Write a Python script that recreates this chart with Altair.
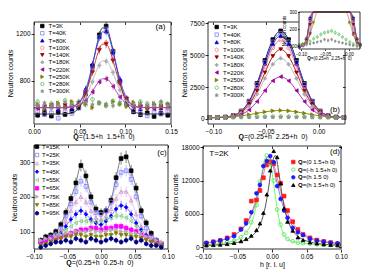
import altair as alt
import pandas as pd

FONT = "Liberation Sans"
W, H = 358, 263
STAR = "M0,-1L0.235,-0.324L0.951,-0.309L0.38,0.124L0.588,0.809L0,0.4L-0.588,0.809L-0.38,0.124L-0.951,-0.309L-0.235,-0.324Z"

# ---------------- panel (a) data ----------------
a_labels = ["T=3K", "T=40K", "T=80K", "T=100K", "T=140K", "T=180K", "T=220K", "T=250K", "T=280K", "T=300K"]
a_x = [0.004, 0.0115, 0.019, 0.0265, 0.034, 0.0415, 0.049, 0.0565, 0.064, 0.0715,
       0.079, 0.0865, 0.094, 0.1015, 0.109, 0.1165, 0.124, 0.1315, 0.139, 0.1465]
a_3K = [505, 520, 498, 530, 512, 540, 570, 690, 925, 1190, 1265, 1050, 790, 600, 535, 510, 525, 495, 520, 505]
a_40K = [540, 510, 525, 480, 535, 520, 565, 700, 910, 1170, 1240, 1045, 800, 610, 545, 520, 500, 530, 515, 540]
a_80K = [575, 560, 585, 555, 580, 565, 620, 730, 940, 1175, 1220, 1040, 815, 650, 590, 560, 575, 585, 565, 580]
a_100K = [560, 585, 570, 590, 565, 580, 600, 705, 885, 1070, 1125, 980, 770, 640, 585, 570, 590, 565, 575, 560]
a_140K = [575, 560, 580, 570, 590, 575, 610, 690, 870, 1060, 1110, 970, 780, 645, 580, 575, 560, 585, 570, 590]
a_180K = [590, 575, 560, 585, 570, 595, 600, 660, 790, 930, 965, 870, 720, 625, 585, 590, 570, 580, 600, 575]
a_220K = [565, 580, 590, 560, 575, 585, 590, 630, 705, 790, 815, 750, 660, 600, 575, 585, 570, 560, 580, 590]
a_250K = [600, 560, 590, 610, 575, 620, 585, 600, 570, 610, 590, 620, 600, 580, 615, 595, 570, 605, 585, 600]
a_280K = [620, 590, 605, 580, 630, 600, 615, 595, 640, 610, 585, 625, 600, 610, 590, 620, 605, 580, 615, 600]
a_300K = [590, 610, 580, 600, 615, 590, 605, 620, 595, 610, 600, 585, 615, 600, 595, 610, 590, 600, 620, 585]

a_fit_labels = ["T=3K", "T=80K", "T=140K", "T=180K", "T=220K"]
a_fit_x = [0, 0.03, 0.04, 0.05, 0.055, 0.06, 0.065, 0.07, 0.075, 0.08, 0.085, 0.09, 0.095, 0.10, 0.105, 0.11, 0.12, 0.15]
a_fit_3K = [515, 515, 521, 575, 654, 788, 967, 1144, 1250, 1237, 1111, 929, 757, 633, 564, 532, 516, 515]
a_fit_80K = [570, 570, 576, 622, 692, 810, 968, 1123, 1216, 1205, 1094, 934, 783, 674, 613, 585, 571, 570]
a_fit_140K = [570, 570, 575, 614, 672, 772, 904, 1034, 1112, 1103, 1010, 876, 749, 657, 606, 583, 571, 570]
a_fit_180K = [570, 570, 574, 602, 645, 719, 816, 912, 969, 962, 894, 795, 702, 634, 597, 579, 571, 570]
a_fit_220K = [570, 570, 572, 590, 617, 662, 722, 781, 816, 812, 770, 709, 651, 610, 587, 576, 570, 570]

# ---------------- panel (b) data ----------------
b_labels = a_labels
b_x = [-0.1035, -0.096, -0.0885, -0.081, -0.0735, -0.066, -0.0585, -0.051, -0.0435,
       -0.036, -0.0285, -0.021, -0.0135, -0.006, 0.0015, 0.009, 0.0165, 0.024]
b_3K = [100, 110, 143, 263, 617, 1392, 2779, 4588, 6220, 6900, 6220, 4588, 2779, 1392, 617, 263, 143, 110]
b_40K = [100, 109, 142, 258, 602, 1354, 2700, 4456, 6040, 6700, 6040, 4456, 2700, 1354, 602, 258, 142, 109]
b_80K = [100, 109, 140, 254, 588, 1320, 2630, 4337, 5878, 6520, 5878, 4337, 2630, 1320, 588, 254, 140, 109]
b_100K = [100, 108, 138, 246, 561, 1253, 2492, 4106, 5563, 6170, 5563, 4106, 2492, 1253, 561, 246, 138, 108]
b_140K = [100, 107, 134, 228, 507, 1117, 2208, 3631, 4915, 5450, 4915, 3631, 2208, 1117, 507, 228, 134, 107]
b_180K = [100, 107, 129, 212, 453, 984, 1932, 3169, 4285, 4750, 4285, 3169, 1932, 984, 453, 212, 129, 107]
b_220K = [100, 104, 120, 177, 344, 710, 1365, 2219, 2989, 3310, 2989, 2219, 1365, 710, 344, 177, 120, 104]
b_250K = [100, 110, 130, 170, 240, 330, 440, 550, 630, 660, 630, 550, 440, 330, 240, 170, 130, 110]
b_280K = [110, 115, 120, 130, 145, 155, 170, 180, 185, 190, 180, 170, 155, 140, 125, 115, 110, 105]
b_300K = [100, 105, 110, 115, 120, 125, 130, 140, 135, 140, 130, 125, 120, 115, 110, 105, 100, 100]
b_line_labels = a_labels[:8]

# ---------------- panel (c) data ----------------
c_labels = ["T=15K", "T=25K", "T=35K", "T=45K", "T=55K", "T=65K", "T=75K", "T=85K", "T=95K"]
c_x = [-0.09, -0.0825, -0.075, -0.0675, -0.06, -0.0525, -0.045, -0.0375, -0.03, -0.0225, -0.015, -0.0075, 0.0,
       0.0075, 0.015, 0.0225, 0.03, 0.0375, 0.045, 0.0525, 0.06, 0.0675, 0.075, 0.0825, 0.09]
c_15K = [75, 85, 90, 100, 120, 155, 195, 240, 290, 260, 200, 165, 155, 160, 190, 255, 310, 315, 275, 225, 160, 125, 95, 75, 65]
c_25K = [70, 75, 85, 90, 110, 145, 180, 215, 245, 230, 185, 155, 150, 160, 185, 235, 270, 275, 250, 200, 145, 110, 85, 75, 65]
c_35K = [70, 75, 85, 95, 105, 130, 160, 185, 200, 185, 160, 140, 135, 145, 165, 195, 215, 215, 190, 150, 115, 95, 80, 70, 60]
c_45K = [65, 70, 80, 85, 95, 115, 135, 150, 160, 150, 135, 125, 120, 130, 145, 165, 175, 170, 150, 125, 105, 90, 75, 70, 60]
c_55K = [60, 70, 75, 85, 95, 105, 115, 125, 130, 130, 130, 128, 130, 135, 140, 145, 145, 140, 130, 115, 100, 85, 75, 65, 60]
c_65K = [70, 75, 80, 80, 85, 90, 95, 100, 105, 105, 110, 110, 105, 110, 110, 115, 115, 110, 105, 100, 90, 85, 75, 70, 65]
c_75K = [75, 80, 80, 85, 90, 95, 95, 100, 100, 100, 105, 100, 100, 100, 105, 105, 100, 100, 95, 95, 90, 85, 80, 75, 70]
c_85K = [60, 65, 70, 75, 80, 85, 85, 90, 90, 85, 90, 85, 85, 90, 90, 95, 90, 90, 85, 85, 80, 75, 70, 65, 60]
c_95K = [55, 60, 65, 70, 70, 75, 70, 80, 75, 70, 80, 75, 70, 75, 80, 75, 70, 75, 80, 70, 75, 65, 60, 60, 55]

# ---------------- panel (d) data ----------------
d_labels = ["Q=(0 1.5+h 0)", "Q=(-h 1.5+h 0)", "Q=(h 1.5 0)", "Q=(h 1.5+h 0)"]
d_x = [-0.095, -0.085, -0.075, -0.065, -0.055, -0.045, -0.0375, -0.03, -0.0225, -0.0175, -0.0125, -0.0075, -0.0025,
       0.0025, 0.0075, 0.0125, 0.0175, 0.0225, 0.03, 0.0375, 0.045, 0.055, 0.065, 0.075, 0.085, 0.095]
d_red = [750, 1000, 1200, 1700, 2300, 3300, 4800, 8300, 8500, 10200, 12500, 14800, 15300, 15000, 13000, 11500, 9200, 6600, 4600, 3200, 2300, 1700, 1300, 1050, 850, 650]
d_green = [480, 560, 700, 900, 1150, 1800, 2600, 4500, 7600, 11800, 14600, 16500, 15000, 12000, 6800, 4100, 2300, 1500, 1100, 850, 750, 650, 560, 480, 430, 400]
d_blue = [800, 950, 1250, 1550, 2000, 3200, 4300, 6300, 9700, 11200, 14600, 15500, 16400, 15300, 11000, 8700, 6600, 5300, 3500, 2700, 2200, 1500, 1200, 1000, 800, 700]
d_black = [350, 420, 500, 600, 800, 1100, 1500, 2100, 3100, 4300, 6200, 9500, 13800, 17300, 16200, 11500, 7000, 4600, 3000, 1800, 1300, 900, 700, 550, 450, 380]
d_fit_x = [-0.10, -0.08, -0.06, -0.05, -0.04, -0.03, -0.025, -0.02, -0.015, -0.01, -0.005, 0, 0.005, 0.01, 0.015,
           0.02, 0.025, 0.03, 0.04, 0.05, 0.06, 0.08, 0.10]
d_fit_red = [749, 1106, 1843, 2539, 3697, 5738, 7295, 9331, 11791, 14265, 15843, 15650, 13807, 11278, 8885, 6946, 5472, 4374, 2929, 2082, 1556, 974, 678]
d_fit_green = [450, 600, 1000, 1400, 2300, 4300, 6300, 9300, 13000, 16000, 16300, 13500, 9000, 5200, 2900, 1800, 1300, 1050, 800, 650, 550, 450, 380]
d_fit_blue = [727, 1083, 1838, 2566, 3812, 6071, 7832, 10143, 12865, 15344, 16400, 15344, 12865, 10143, 7832, 6071, 4766, 3812, 2566, 1838, 1383, 876, 617]
d_fit_black = [317, 430, 661, 876, 1244, 1927, 2512, 3400, 4814, 7089, 10660, 14950, 16485, 13300, 9067, 6035, 4164, 2999, 1750, 1151, 824, 501, 354]

# axis titles (bold "Q" + rest)
a_title_rest = "=(1.5+h\u00a0 1.5+h\u00a0 0)"
b_title_rest = "=(0.25+h\u00a0 2.25+h\u00a0 0)"
c_title_rest = "=(0.25+h\u00a0 0.25-h\u00a0 0)"

# ---------------- styles ----------------
ab_stroke = ["#000000", "#8080ff", "#0000d0", "#ff8080", "#9a0000", "#a8a8a8", "#a000a0", "#808000", "#60c060", "#8c8c8c"]
ab_fill = ["#000000", "transparent", "#0000d0", "transparent", "#9a0000", "#a8a8a8", "#a000a0", "#808000", "transparent", "#8c8c8c"]
ab_shape = ["square", "square", "triangle-up", "circle", "triangle-down", "diamond", "triangle-left", "triangle-right", "circle", STAR]
a_fit_stroke = ["#303030", "#3c3cff", "#c03030", "#b8b8b8", "#a040a0"]
b_line_stroke = ["#000000", "#6a6aff", "#2020e0", "#ff7070", "#b00000", "#b0b0b0", "#a020a0", "#808000"]
c_stroke = ["#000000", "#8080ff", "#d090d0", "#0000ff", "#80c880", "#ff00ff", "#b0b0b0", "#808000", "#000080"]
c_fill = ["#000000", "transparent", "transparent", "#0000ff", "transparent", "#ff00ff", "#b0b0b0", "#808000", "#000080"]
c_shape = ["square", "square", "triangle-up", "diamond", "triangle-left", "square", "triangle-right", "triangle-down", "circle"]
d_stroke = ["#ff1a1a", "#55dd55", "#1a1aff", "#000000"]
d_fill = ["#ff1a1a", "transparent", "#1a1aff", "#000000"]
d_shape = ["square", "circle", "circle", "triangle-up"]
d_line = ["#ff6a6a", "#55ff55", "#7070ff", "#404040"]

# panel geometry (pixel ranges inside the single view)
PA = dict(xdom=[0.0, 0.15], ydom=[430, 1300], xr=[26, 163], yr=[116, 14])
PB = dict(xdom=[-0.105, 0.025], ydom=[-400, 7600], xr=[200, 337], yr=[116, 14])
PI = dict(xdom=[-0.104, 0.023], ydom=[85, 300], xr=[291, 352], yr=[41, 4])
PC = dict(xdom=[-0.10, 0.10], ydom=[50, 349], xr=[26, 160], yr=[241, 137])
PD = dict(xdom=[-0.10, 0.10], ydom=[-300, 18200], xr=[195, 333], yr=[241, 138])


def long(xs, labels, series):
    rows = []
    for lab, ys in zip(labels, series):
        for x, y in zip(xs, ys):
            rows.append({"x": x, "y": y, "T": lab})
    return pd.DataFrame(rows)


def sx(P, clamp=False):
    return alt.Scale(domain=P["xdom"], range=P["xr"], nice=False, zero=False, clamp=clamp)


def sy(P, clamp=False):
    return alt.Scale(domain=P["ydom"], range=P["yr"], nice=False, zero=False, clamp=clamp)


AX = dict(domain=False, grid=False, labelFont=FONT, titleFont=FONT, labelColor="black", titleColor="black",
          tickColor="black", tickWidth=0.8, titleFontWeight="normal", labelFlush=False, labelOverlap=False)


def xaxis(P, values, title, fmt=".2f", fs=6.5, ts=7, tick=3, z=0):
    return alt.Axis(orient="bottom", offset=P["yr"][0] - H, values=values, format=fmt, title=title,
                    labelFontSize=fs, titleFontSize=ts, tickSize=tick, labelPadding=1, titlePadding=1,
                    zindex=z, **AX)


def yaxis(P, values, title, fmt="d", fs=6.5, ts=7, tick=3, z=0):
    return alt.Axis(orient="left", offset=-P["xr"][0], values=values, format=fmt, title=title,
                    labelFontSize=fs, titleFontSize=ts, tickSize=tick, labelPadding=1, titlePadding=2,
                    zindex=z, **AX)


def frame(P, xvals, yvals, fill="transparent", mirror=True):
    if mirror:
        ta = alt.Axis(orient="bottom", offset=P["yr"][1] - H, values=xvals, labels=False, title="",
                      tickSize=2.5, **AX)
        ra = alt.Axis(orient="left", offset=-P["xr"][1], values=yvals, labels=False, title="",
                      tickSize=2.5, **AX)
    else:
        ta = None
        ra = None
    enc = dict(
        x=alt.XDatum(P["xdom"][0], type="quantitative", scale=sx(P), axis=ta),
        x2=alt.X2Datum(P["xdom"][1]),
        y=alt.YDatum(P["ydom"][0], type="quantitative", scale=sy(P), axis=ra),
        y2=alt.Y2Datum(P["ydom"][1]),
    )
    stroke = "black" if fill == "transparent" else "white"
    return alt.Chart(pd.DataFrame({"k": [0]})).mark_rect(fill=fill, stroke=stroke, strokeWidth=0.8).encode(**enc)


def cscales(labels, stroke, fill, shape):
    return (alt.Scale(domain=labels, range=stroke), alt.Scale(domain=labels, range=fill),
            alt.Scale(domain=labels, range=shape))


def points(df, P, labels, stroke, fill, shape, xax=None, yax=None, size=14, filt=None):
    s1, s2, s3 = cscales(labels, stroke, fill, shape)
    ch = alt.Chart(df)
    if filt:
        ch = ch.transform_filter(filt)
    return ch.mark_point(size=size, strokeWidth=0.8, opacity=1).encode(
        x=alt.X("x:Q", scale=sx(P, filt is not None), axis=xax),
        y=alt.Y("y:Q", scale=sy(P), axis=yax),
        stroke=alt.Stroke("T:N", scale=s1, legend=None),
        fill=alt.Fill("T:N", scale=s2, legend=None),
        shape=alt.Shape("T:N", scale=s3, legend=None),
    )


def errbars(df, P, labels, stroke, filt=None, width=0.5):
    ch = alt.Chart(df)
    if filt:
        ch = ch.transform_filter(filt)
    return ch.transform_calculate(lo="datum.y - sqrt(datum.y)", hi="datum.y + sqrt(datum.y)").mark_rule(
        strokeWidth=width).encode(
        x=alt.X("x:Q", scale=sx(P, True), axis=None),
        y=alt.Y("lo:Q", scale=sy(P, True), axis=None),
        y2="hi:Q",
        stroke=alt.Stroke("T:N", scale=alt.Scale(domain=labels, range=stroke), legend=None),
    )


def lines(df, P, labels, stroke, width=0.9, clamp=False):
    return alt.Chart(df).mark_line(strokeWidth=width, interpolate="monotone").encode(
        x=alt.X("x:Q", scale=sx(P, clamp), axis=None),
        y=alt.Y("y:Q", scale=sy(P, clamp), axis=None),
        stroke=alt.Stroke("T:N", scale=alt.Scale(domain=labels, range=stroke), legend=None),
    )


def legend(labels, stroke, fill, shape, symx, textx, y0, y1, fs=6, size=12, boldq=False):
    df = pd.DataFrame({"T": labels})
    ysc = alt.Scale(type="point", domain=labels, range=[y0, y1], padding=0)
    s1, s2, s3 = cscales(labels, stroke, fill, shape)
    sym = alt.Chart(df).mark_point(size=size, strokeWidth=0.8, opacity=1).encode(
        x=alt.value(symx), y=alt.Y("T:N", scale=ysc, axis=None),
        stroke=alt.Stroke("T:N", scale=s1, legend=None),
        fill=alt.Fill("T:N", scale=s2, legend=None),
        shape=alt.Shape("T:N", scale=s3, legend=None),
    )
    out = [sym]
    if boldq:
        qw = 0.778 * fs
        out.append(alt.Chart(df).transform_calculate(q="substring(datum.T, 0, 1)").mark_text(
            align="left", baseline="middle", font=FONT, fontSize=fs, fontWeight="bold", color="black").encode(
            x=alt.value(textx), y=alt.Y("T:N", scale=ysc, axis=None), text="q:N"))
        out.append(alt.Chart(df).transform_calculate(rest="substring(datum.T, 1)").mark_text(
            align="left", baseline="middle", font=FONT, fontSize=fs, color="black").encode(
            x=alt.value(textx + qw), y=alt.Y("T:N", scale=ysc, axis=None), text="rest:N"))
    else:
        out.append(alt.Chart(df).mark_text(align="left", baseline="middle", font=FONT, fontSize=fs,
                                           color="black").encode(
            x=alt.value(textx), y=alt.Y("T:N", scale=ysc, axis=None), text="T:N"))
    return out


def label(t, x, y, fs=8, align="center", weight="normal"):
    return alt.Chart(pd.DataFrame({"t": [t]})).mark_text(
        font=FONT, fontSize=fs, align=align, baseline="middle", color="black", fontWeight=weight).encode(
        x=alt.value(x), y=alt.value(y), text="t:N")


def qtitle(rest, xj, y, fs=7):
    return [label("Q", xj, y, fs=fs, align="right", weight="bold"),
            label(rest, xj, y, fs=fs, align="left")]


layers = []

# ---- (a)
a_df = long(a_x, a_labels, [a_3K, a_40K, a_80K, a_100K, a_140K, a_180K, a_220K, a_250K, a_280K, a_300K])
a_fit = long(a_fit_x, a_fit_labels, [a_fit_3K, a_fit_80K, a_fit_140K, a_fit_180K, a_fit_220K])
a_xv = [0.0, 0.05, 0.10, 0.15]
a_yv = [800, 1200]
layers += [
    errbars(a_df, PA, a_labels, ab_stroke),
    points(a_df, PA, a_labels, ab_stroke, ab_fill, ab_shape,
           xax=xaxis(PA, a_xv, ""), yax=yaxis(PA, a_yv, "Neutron counts")),
    lines(a_fit, PA, a_fit_labels, a_fit_stroke),
    frame(PA, a_xv, a_yv),
]
layers += legend(a_labels, ab_stroke, ab_fill, ab_shape, 34.3, 40.5, 18, 83.3)
layers.append(label("(a)", 152.5, 19))
layers += qtitle(a_title_rest, 70.8, 129)

# ---- (b)
b_df = long(b_x, b_labels, [b_3K, b_40K, b_80K, b_100K, b_140K, b_180K, b_220K, b_250K, b_280K, b_300K])
b_line_df = b_df[b_df["T"].isin(b_line_labels)]
b_xv = [-0.10, -0.05, 0.0]
b_yv = [0, 2500, 5000, 7500]
layers += [
    lines(b_line_df, PB, b_line_labels, b_line_stroke),
    points(b_df, PB, b_labels, ab_stroke, ab_fill, ab_shape,
           xax=xaxis(PB, b_xv, ""), yax=yaxis(PB, b_yv, "Neutron counts")),
    frame(PB, b_xv, b_yv),
]
layers += legend(b_labels, ab_stroke, ab_fill, ab_shape, 208.7, 215, 19, 87.3)
layers.append(label("(b)", 327, 102))
layers += qtitle(b_title_rest, 235.9, 129)

# ---- inset of (b)
i_xv = [-0.10, -0.05, 0.0]
i_yv = [100, 200, 300]
layers += [
    frame(PI, i_xv, i_yv, fill="white", mirror=False),
    lines(b_line_df, PI, b_line_labels, b_line_stroke, width=0.6, clamp=True),
    errbars(b_df, PI, b_labels, ab_stroke, filt="datum.y <= 300", width=0.4),
    points(b_df, PI, b_labels, ab_stroke, ab_fill, ab_shape, size=5, filt="datum.y <= 300",
           xax=xaxis(PI, i_xv, "", fs=4.5, ts=4.5, tick=1.5, z=1),
           yax=yaxis(PI, i_yv, "Neutron counts", fs=4.5, ts=4.5, tick=1.5, z=1)),
    frame(PI, i_xv, i_yv, mirror=False),
]
layers += qtitle(b_title_rest, 302.8, 51, fs=4.5)

# ---- (c)
c_df = long(c_x, c_labels, [c_15K, c_25K, c_35K, c_45K, c_55K, c_65K, c_75K, c_85K, c_95K])
c_xv = [-0.10, -0.05, 0.0, 0.05, 0.10]
c_yv = [100, 200, 300]
layers += [
    errbars(c_df, PC, c_labels, c_stroke),
    lines(c_df, PC, c_labels, c_stroke, width=0.5),
    points(c_df, PC, c_labels, c_stroke, c_fill, c_shape,
           xax=xaxis(PC, c_xv, ""), yax=yaxis(PC, c_yv, "Neutron counts")),
    frame(PC, c_xv, c_yv),
]
layers += legend(c_labels, c_stroke, c_fill, c_shape, 29, 34, 138.7, 205.3)
layers.append(label("(c)", 154, 145))
layers += qtitle(c_title_rest, 63.7, 255)

# ---- (d)
d_df = long(d_x, d_labels, [d_red, d_green, d_blue, d_black])
d_fit = long(d_fit_x, d_labels, [d_fit_red, d_fit_green, d_fit_blue, d_fit_black])
d_xv = [-0.10, -0.05, 0.0, 0.05, 0.10]
d_yv = [0, 6000, 12000, 18000]
layers += [
    lines(d_fit, PD, d_labels, d_line),
    points(d_df, PD, d_labels, d_stroke, d_fill, d_shape,
           xax=xaxis(PD, d_xv, "h [r. l. u]"), yax=yaxis(PD, d_yv, "Neutron counts")),
    frame(PD, d_xv, d_yv),
]
layers += legend(d_labels, d_stroke, d_fill, d_shape, 285.3, 290, 154, 177, fs=6, boldq=True)
layers.append(label("(d)", 327, 144))
layers.append(label("T=2K", 211, 146))

chart = alt.layer(*layers).resolve_scale(
    x="independent", y="independent", stroke="independent", fill="independent", shape="independent"
).properties(
    width=W, height=H, padding=0, autosize=alt.AutoSizeParams(type="none")
).configure_view(strokeWidth=0)

chart.save("out.html", embed_options={"renderer": "svg", "actions": False})
